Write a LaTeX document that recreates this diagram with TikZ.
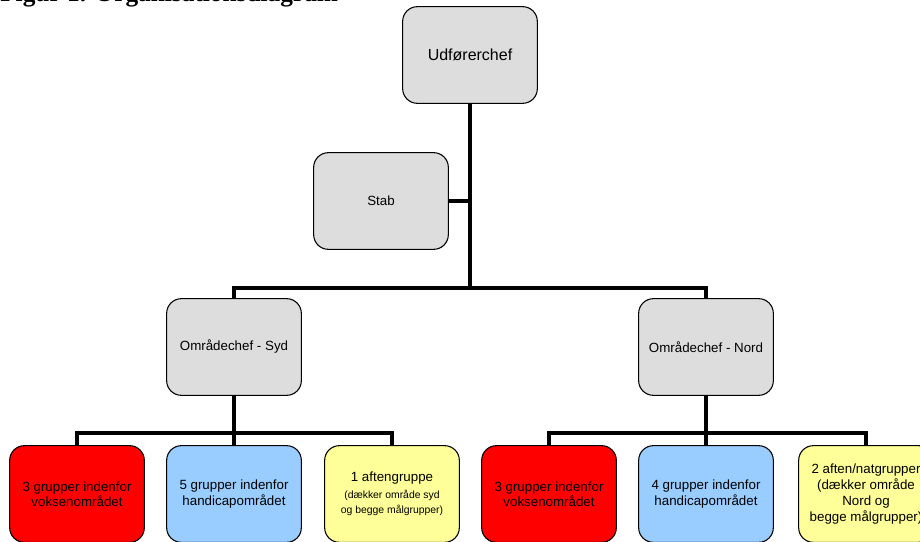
\documentclass[tikz,border=0pt]{standalone}
\usepackage{fontspec}
\setmainfont{Liberation Sans}
\newfontfamily\titlefont{Liberation Serif}
\usepackage{tikz}
\usetikzlibrary{positioning}
\definecolor{orggrey}{RGB}{221,221,221}
\definecolor{orgred}{RGB}{255,0,0}
\definecolor{orgblue}{RGB}{153,204,255}
\definecolor{orgyellow}{RGB}{255,255,153}
\begin{document}
\begin{tikzpicture}[x=0.75pt,y=-0.75pt,
  unit/.style={draw=black,line width=0.8pt,rounded corners=11pt,
    minimum width=101pt,minimum height=72.5pt,align=center,inner sep=2pt},
  greybox/.style={unit,fill=orggrey},
  redbox/.style={unit,fill=orgred,font=\fontsize{10}{11.5}\selectfont},
  bluebox/.style={unit,fill=orgblue,font=\fontsize{10}{11.5}\selectfont},
  yellowbox/.style={unit,fill=orgyellow,font=\fontsize{10}{11.5}\selectfont},
  link/.style={line width=2.4pt,black}]
  \useasboundingbox (0,0) rectangle (920,542);
  \clip (0,0) rectangle (920,542);
  % Title (cut at the top edge)
  \node[anchor=base west,inner sep=0pt,font=\titlefont\bfseries\fontsize{19}{22}\selectfont]
    (title) at (0,1.8) {Figur 1. Organisationsdiagram};
  % Top level
  \node[greybox,font=\fontsize{12}{14}\selectfont] (chef) at (470,55) {Udførerchef};
  \node[greybox,font=\fontsize{10}{12}\selectfont] (stab) at (381,201) {Stab};
  % Area managers
  \node[greybox,font=\fontsize{10}{12}\selectfont] (syd) at (234,347) {Områdechef - Syd};
  \node[greybox,font=\fontsize{10}{12}\selectfont] (nord) at (706,347) {Områdechef - Nord};
  % Groups Syd
  \node[redbox] (syd1) at (77,494) {3 grupper indenfor\\voksenområdet};
  \node[bluebox] (syd2) at (234,494) {5 grupper indenfor\\handicapområdet};
  \node[yellowbox] (syd3) at (392,494)
    {1 aftengruppe\\[1pt]{\fontsize{7.8}{11}\selectfont(dækker område syd}\\{\fontsize{7.8}{11}\selectfont og begge målgrupper)}};
  % Groups Nord
  \node[redbox] (nord1) at (549,494) {3 grupper indenfor\\voksenområdet};
  \node[bluebox] (nord2) at (706,494) {4 grupper indenfor\\handicapområdet};
  \node[yellowbox,font=\fontsize{10}{12}\selectfont] (nord3) at (866,494)
    {2 aften/natgrupper\\(dækker område\\Nord og\\begge målgrupper)};
  % Connectors
  \coordinate (bar) at (470,288);
  \coordinate (sydbar) at (234,433);
  \coordinate (nordbar) at (706,433);
  \draw[link] (chef.south) -- (bar);
  \draw[link] (stab.east) -- (stab.east -| chef.south);
  \draw[link] (syd.north) |- (bar) -| (nord.north);
  \draw[link] (syd.south) -- (sydbar);
  \draw[link] (syd1.north) |- (sydbar) -| (syd3.north);
  \draw[link] (syd2.north) -- (sydbar);
  \draw[link] (nord.south) -- (nordbar);
  \draw[link] (nord1.north) |- (nordbar) -| (nord3.north);
  \draw[link] (nord2.north) -- (nordbar);
\end{tikzpicture}
\end{document}
